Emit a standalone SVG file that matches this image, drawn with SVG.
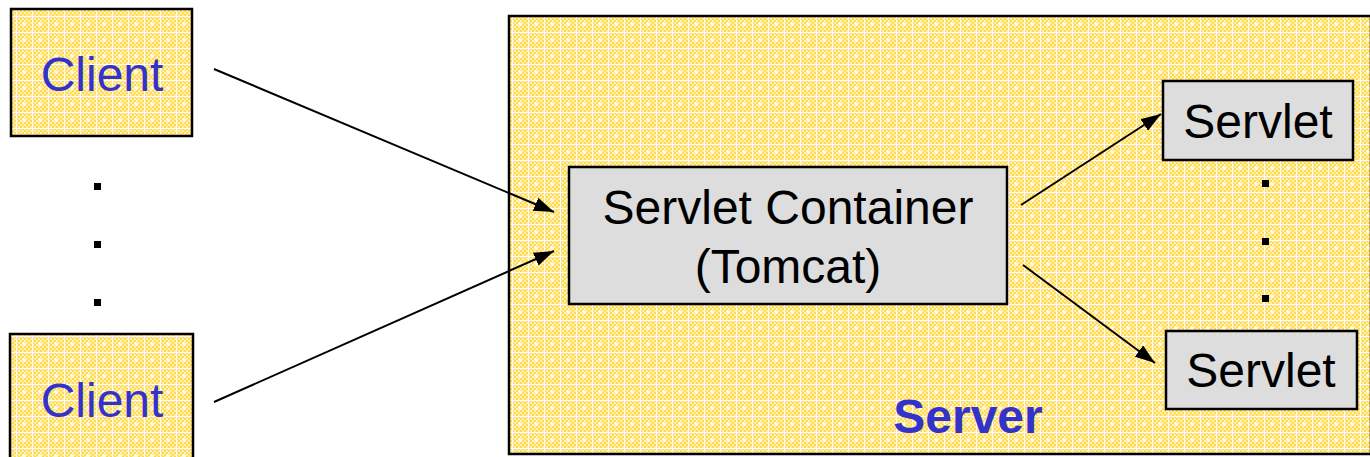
<svg xmlns="http://www.w3.org/2000/svg" width="1370" height="457" viewBox="0 0 1370 457">
  <style>
    .hatch { fill: url(#lattice); stroke: #000; stroke-width: 2.5; }
    .grey { fill: #DDDDDD; stroke: #000; stroke-width: 2.5; }
    .lbl { font-family: "Liberation Sans", Arial, sans-serif; font-size: 48px; text-anchor: middle; }
    .blue { fill: #3333CC; }
    .dark { fill: #000; }
    .bold { font-weight: bold; }
    .link { stroke: #000; stroke-width: 2; fill: none; marker-end: url(#head); }
  </style>
  <defs>
    <!-- small 2px checker used inside the yellow lattice -->
    <pattern id="checker" width="4" height="4" patternUnits="userSpaceOnUse">
      <rect width="4" height="4" fill="#FFDA55"/>
      <rect x="0" y="0" width="2" height="2" fill="#FFF0B0"/>
      <rect x="2" y="2" width="2" height="2" fill="#FFF0B0"/>
    </pattern>
    <!-- yellow lattice fill with white grid lines -->
    <pattern id="lattice" width="16" height="16" patternUnits="userSpaceOnUse">
      <rect width="16" height="16" fill="url(#checker)"/>
      <path d="M0 0h16v1H0zM0 0h1v16H0z" fill="#FFFFFF"/>
      <path d="M7 6h2v4H7zM6 7h4v2H6z" fill="#FFFBE6"/>
    </pattern>
    <marker id="head" viewBox="0 0 20 14" refX="20" refY="7" markerWidth="20" markerHeight="14" markerUnits="userSpaceOnUse" orient="auto">
      <path d="M0 0L20 7L0 14z" fill="#000"/>
    </marker>
  </defs>

  <!-- server area -->
  <g id="server">
    <rect class="hatch" x="509" y="16" width="862" height="438"/>
    <text class="lbl blue bold" x="968" y="433">Server</text>
  </g>

  <!-- clients -->
  <g id="client-top">
    <rect class="hatch" x="11" y="9" width="181" height="127"/>
    <text class="lbl blue" x="102" y="91">Client</text>
  </g>
  <g id="client-bottom">
    <rect class="hatch" x="10" y="334" width="183" height="130"/>
    <text class="lbl blue" x="102" y="417">Client</text>
  </g>

  <!-- ellipsis between clients -->
  <g id="client-dots" fill="#000">
    <rect x="94" y="183" width="7" height="7"/>
    <rect x="94" y="241" width="7" height="7"/>
    <rect x="94" y="299" width="7" height="7"/>
  </g>

  <!-- container -->
  <g id="container">
    <rect class="grey" x="569" y="167" width="438" height="137"/>
    <text class="lbl dark" x="788" y="224">Servlet Container</text>
    <text class="lbl dark" x="788" y="283">(Tomcat)</text>
  </g>

  <!-- servlets -->
  <g id="servlet-top">
    <rect class="grey" x="1163" y="81" width="190" height="79"/>
    <text class="lbl dark" x="1258" y="138">Servlet</text>
  </g>
  <g id="servlet-bottom">
    <rect class="grey" x="1166" y="331" width="191" height="78"/>
    <text class="lbl dark" x="1261" y="387">Servlet</text>
  </g>

  <!-- ellipsis between servlets -->
  <g id="servlet-dots" fill="#000">
    <rect x="1262" y="180" width="7" height="7"/>
    <rect x="1262" y="238" width="7" height="7"/>
    <rect x="1262" y="295" width="7" height="7"/>
  </g>

  <!-- connectors -->
  <g id="connectors">
    <line class="link" x1="214" y1="69" x2="554" y2="212"/>
    <line class="link" x1="214" y1="402" x2="554" y2="251"/>
    <line class="link" x1="1021" y1="205" x2="1161" y2="114"/>
    <line class="link" x1="1023" y1="265" x2="1155" y2="363"/>
  </g>
</svg>
